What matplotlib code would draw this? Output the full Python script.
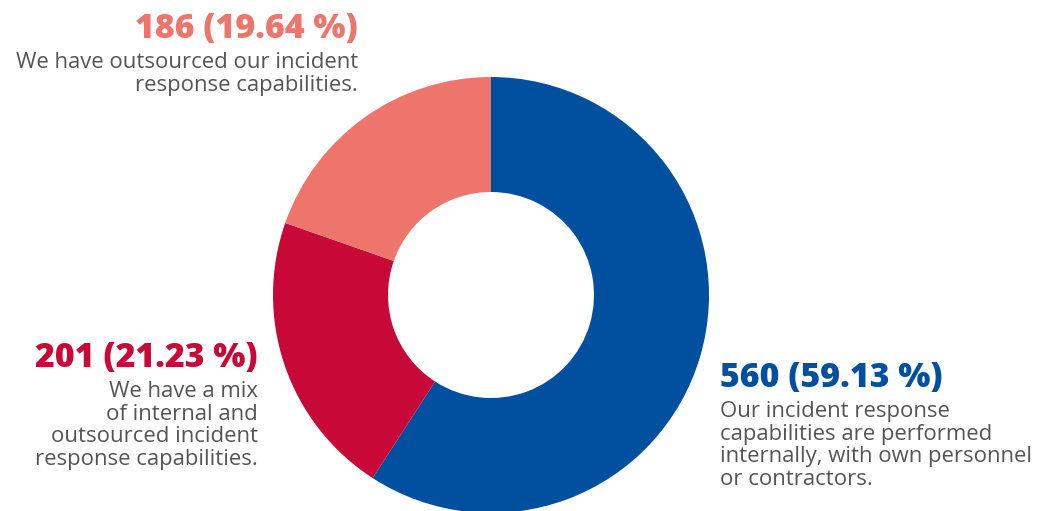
import matplotlib
matplotlib.use("Agg")
import matplotlib.pyplot as plt

values = [560, 201, 186]
percents = [59.13, 21.23, 19.64]
descriptions = [
    "Our incident response\ncapabilities are performed\ninternally, with own personnel\nor contractors.",
    "We have a mix\nof internal and\noutsourced incident\nresponse capabilities.",
    "We have outsourced our incident\nresponse capabilities.",
]
colors = ["#00509F", "#C80836", "#EE756B"]

W, H = 1042, 511
fig = plt.figure(figsize=(W / 100, H / 100), dpi=100)
ax = fig.add_axes([0, 0, 1, 1])

cx, cy = 491, H - 295
ax.pie(values, colors=colors, startangle=90, counterclock=False,
       radius=218, center=(cx, cy), frame=True,
       wedgeprops=dict(width=115, linewidth=0))
ax.set_xlim(0, W)
ax.set_ylim(0, H)
ax.set_aspect("equal")
ax.axis("off")

labels = [f"{v} ({p:.2f} %)" for v, p in zip(values, percents)]

title_fs = 24.4
body_fs = 15.9
gray = "#555555"
fam = ["Open Sans", "DejaVu Sans"]

# positions: (x, title baseline y px, alignment)
pos = [(720, 387, "left"), (258, 367, "right"), (358, 38, "right")]
for (x, yb, ha), lab, desc, col in zip(pos, labels, descriptions, colors):
    ax.text(x, H - yb, lab, ha=ha, va="baseline", fontsize=title_fs,
            fontweight=800, color=col, family=fam)
    ax.text(x, H - yb - 14, desc, ha=ha, va="top", fontsize=body_fs,
            color=gray, family=fam, linespacing=1.1, multialignment=ha)

fig.savefig("out.png", dpi=100)
